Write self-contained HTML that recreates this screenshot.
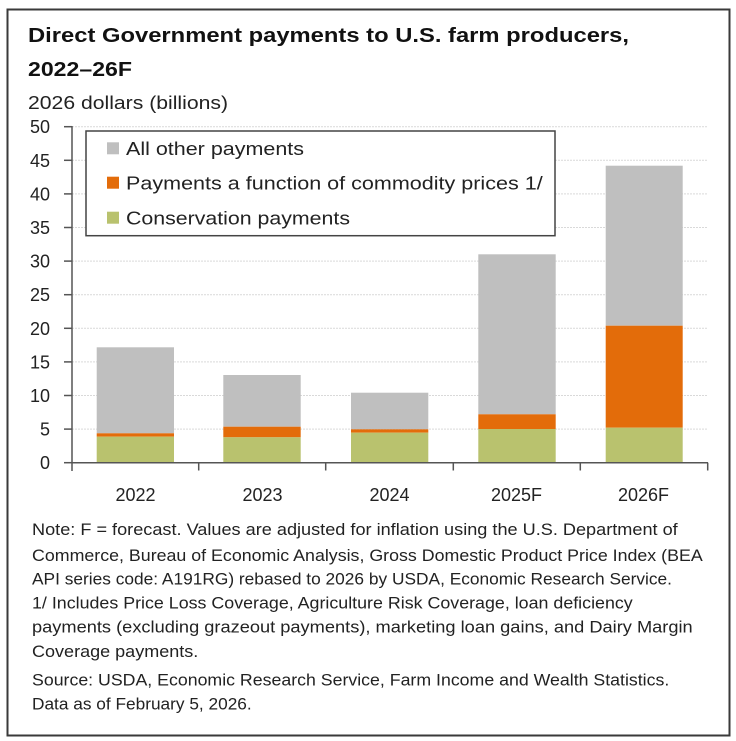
<!DOCTYPE html>
<html><head><meta charset="utf-8"><style>
html,body{margin:0;padding:0;background:#fff;}
svg{display:block;font-family:"Liberation Sans",sans-serif;}
</style></head><body>
<svg width="736" height="741" viewBox="0 0 736 741" xmlns="http://www.w3.org/2000/svg">
<rect x="0" y="0" width="736" height="741" fill="#fff"/>
<rect x="7.5" y="9.5" width="722" height="726" fill="#fff" stroke="#3a3a3a" stroke-width="2"/>
<!-- title -->
<text x="28" y="42" font-size="20.5" font-weight="bold" fill="#111" textLength="601" lengthAdjust="spacingAndGlyphs">Direct Government payments to U.S. farm producers,</text>
<text x="28" y="76" font-size="20.5" font-weight="bold" fill="#111" textLength="104" lengthAdjust="spacingAndGlyphs">2022–26F</text>
<text x="28" y="109" font-size="18" fill="#222" textLength="200" lengthAdjust="spacingAndGlyphs">2026 dollars (billions)</text>
<!-- gridlines -->
<g stroke="#d9d9d9" stroke-width="1" stroke-dasharray="2,1">
<line x1="72" y1="126.7" x2="708" y2="126.7"/>
<line x1="72" y1="160.3" x2="708" y2="160.3"/>
<line x1="72" y1="193.9" x2="708" y2="193.9"/>
<line x1="72" y1="227.5" x2="708" y2="227.5"/>
<line x1="72" y1="261.1" x2="708" y2="261.1"/>
<line x1="72" y1="294.7" x2="708" y2="294.7"/>
<line x1="72" y1="328.3" x2="708" y2="328.3"/>
<line x1="72" y1="361.9" x2="708" y2="361.9"/>
<line x1="72" y1="395.5" x2="708" y2="395.5"/>
<line x1="72" y1="429.1" x2="708" y2="429.1"/>
</g>
<!-- bars -->
<!-- 2022 -->
<rect x="96.7" y="347.3" width="77.3" height="86" fill="#bfbfbf"/>
<rect x="96.7" y="433.3" width="77.3" height="3.4" fill="#e36c0a"/>
<rect x="96.7" y="436.7" width="77.3" height="26" fill="#b9c26e"/>
<!-- 2023 -->
<rect x="223.3" y="375" width="77.4" height="51.7" fill="#bfbfbf"/>
<rect x="223.3" y="426.7" width="77.4" height="10.6" fill="#e36c0a"/>
<rect x="223.3" y="437.3" width="77.4" height="25.4" fill="#b9c26e"/>
<!-- 2024 -->
<rect x="351" y="392.7" width="77.3" height="36.6" fill="#bfbfbf"/>
<rect x="351" y="429.3" width="77.3" height="3.4" fill="#e36c0a"/>
<rect x="351" y="432.7" width="77.3" height="30" fill="#b9c26e"/>
<!-- 2025F -->
<rect x="478.3" y="254.3" width="77.4" height="160" fill="#bfbfbf"/>
<rect x="478.3" y="414.3" width="77.4" height="14.7" fill="#e36c0a"/>
<rect x="478.3" y="429" width="77.4" height="33.7" fill="#b9c26e"/>
<!-- 2026F -->
<rect x="605.7" y="165.7" width="77" height="160" fill="#bfbfbf"/>
<rect x="605.7" y="325.7" width="77" height="102" fill="#e36c0a"/>
<rect x="605.7" y="427.7" width="77" height="35" fill="#b9c26e"/>
<!-- axes -->
<g stroke="#555" stroke-width="1.5" fill="none">
<line x1="72" y1="126" x2="72" y2="471"/>
<line x1="72" y1="462.7" x2="708" y2="462.7"/>
<line x1="64" y1="126.7" x2="72" y2="126.7"/>
<line x1="64" y1="160.3" x2="72" y2="160.3"/>
<line x1="64" y1="193.9" x2="72" y2="193.9"/>
<line x1="64" y1="227.5" x2="72" y2="227.5"/>
<line x1="64" y1="261.1" x2="72" y2="261.1"/>
<line x1="64" y1="294.7" x2="72" y2="294.7"/>
<line x1="64" y1="328.3" x2="72" y2="328.3"/>
<line x1="64" y1="361.9" x2="72" y2="361.9"/>
<line x1="64" y1="395.5" x2="72" y2="395.5"/>
<line x1="64" y1="429.1" x2="72" y2="429.1"/>
<line x1="64" y1="462.7" x2="72" y2="462.7"/>
<line x1="198.7" y1="462.7" x2="198.7" y2="470.5"/>
<line x1="325.7" y1="462.7" x2="325.7" y2="470.5"/>
<line x1="453.3" y1="462.7" x2="453.3" y2="470.5"/>
<line x1="580.3" y1="462.7" x2="580.3" y2="470.5"/>
<line x1="707.7" y1="462.7" x2="707.7" y2="470.5"/>
</g>
<!-- y labels -->
<g font-size="18" fill="#222" text-anchor="end">
<text x="50" y="133.2">50</text>
<text x="50" y="166.8">45</text>
<text x="50" y="200.4">40</text>
<text x="50" y="234">35</text>
<text x="50" y="267.6">30</text>
<text x="50" y="301.2">25</text>
<text x="50" y="334.8">20</text>
<text x="50" y="368.4">15</text>
<text x="50" y="402">10</text>
<text x="50" y="435.6">5</text>
<text x="50" y="469.2">0</text>
</g>
<!-- x labels -->
<g font-size="18" fill="#222" text-anchor="middle">
<text x="135.5" y="501">2022</text>
<text x="262.5" y="501">2023</text>
<text x="389.5" y="501">2024</text>
<text x="516.5" y="501">2025F</text>
<text x="643.5" y="501">2026F</text>
</g>
<!-- legend -->
<rect x="86" y="131" width="469" height="104.7" fill="#fff" stroke="#444" stroke-width="1.5"/>
<rect x="107" y="142.3" width="12" height="12" fill="#bfbfbf"/>
<rect x="107" y="176.7" width="12" height="12" fill="#e36c0a"/>
<rect x="107" y="211.7" width="12" height="12" fill="#b9c26e"/>
<g font-size="18" fill="#222">
<text x="126" y="155" textLength="178" lengthAdjust="spacingAndGlyphs">All other payments</text>
<text x="126" y="189.4" textLength="416.7" lengthAdjust="spacingAndGlyphs">Payments a function of commodity prices 1/</text>
<text x="126" y="224.4" textLength="224" lengthAdjust="spacingAndGlyphs">Conservation payments</text>
</g>
<!-- notes -->
<g font-size="16.5" fill="#222">
<text x="32" y="535" textLength="645.7" lengthAdjust="spacingAndGlyphs">Note: F = forecast. Values are adjusted for inflation using the U.S. Department of</text>
<text x="32" y="561" textLength="670.7" lengthAdjust="spacingAndGlyphs">Commerce, Bureau of Economic Analysis, Gross Domestic Product Price Index (BEA</text>
<text x="32" y="584.7" textLength="640" lengthAdjust="spacingAndGlyphs">API series code: A191RG) rebased to 2026 by USDA, Economic Research Service.</text>
<text x="32" y="608.7" textLength="600.7" lengthAdjust="spacingAndGlyphs">1/ Includes Price Loss Coverage, Agriculture Risk Coverage, loan deficiency</text>
<text x="32" y="632.7" textLength="660.7" lengthAdjust="spacingAndGlyphs">payments (excluding grazeout payments), marketing loan gains, and Dairy Margin</text>
<text x="32" y="657" textLength="166.3" lengthAdjust="spacingAndGlyphs">Coverage payments.</text>
<text x="32" y="685.3" textLength="637.3" lengthAdjust="spacingAndGlyphs">Source: USDA, Economic Research Service, Farm Income and Wealth Statistics.</text>
<text x="32" y="709.7" textLength="219.7" lengthAdjust="spacingAndGlyphs">Data as of February 5, 2026.</text>
</g>
</svg>
</body></html>
